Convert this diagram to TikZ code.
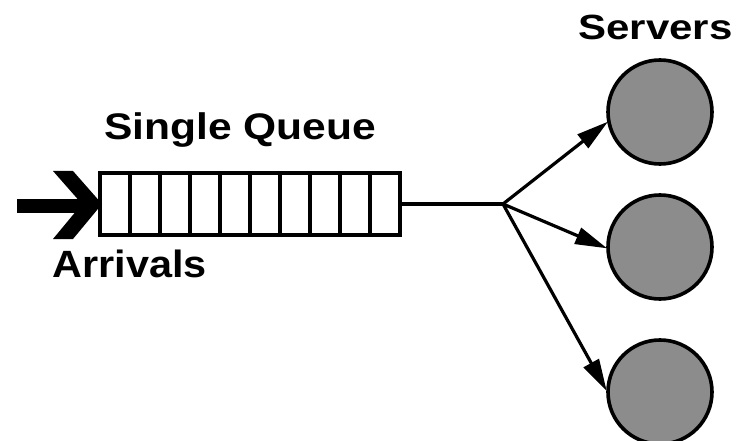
\documentclass[tikz,border=0pt]{standalone}
\usepackage{fontspec}
\setmainfont{Liberation Sans}
\usetikzlibrary{arrows.meta}
\definecolor{srvgray}{RGB}{140,140,140}
\tikzset{
  lbl/.style={inner sep=0pt, anchor=base, font=\bfseries},
  server/.style={circle, draw=black, line width=3.6pt, fill=srvgray, minimum size=104pt, inner sep=0pt},
  cell/.style={draw=black, line width=3.4pt, minimum width=30pt, minimum height=62pt, inner sep=0pt},
  conn/.style={line width=3.2pt},
  flow/.style={conn, -{Triangle[length=32pt,width=17pt]}, shorten >=-1pt}
}
\begin{document}
\begin{tikzpicture}[x=1pt,y=-1pt]
\useasboundingbox (0,0) rectangle (742,441);
\clip (0,0) rectangle (742,441);
% queue cells
\foreach \i in {0,...,9} {
  \node[cell] (c\i) at (115+30*\i,204) {};
}
% labels
\node[lbl] (lq) at (240,140) {\fontsize{37}{37}\selectfont\scalebox{1.15}[1]{Single Queue}};
\node[lbl] (la) at (129.5,277.5) {\fontsize{38}{38}\selectfont\scalebox{1.09}[1]{Arrivals}};
\node[lbl] (ls) at (655.5,40) {\fontsize{35}{35}\selectfont\scalebox{1.2}[1]{Servers}};
% servers
\node[server] (s1) at (660,112) {};
\node[server] (s2) at (660,247) {};
\node[server] (s3) at (660,392) {};
% arrival arrow
\coordinate (ain) at (17,206);
\draw[line width=14pt] (ain) -- (88,206);
\fill (53,171) -- (73,171) -- (102,204) -- (73,239) -- (53,239) -- (82,204) -- cycle;
% branch
\coordinate (br) at (503,204);
\draw[conn] (c9.east) -- (br);
\draw[flow] (br) -- (s1.191);
\draw[flow] (br) -- (s2.181);
\draw[flow] (br) -- (s3.178);
\end{tikzpicture}
\end{document}
